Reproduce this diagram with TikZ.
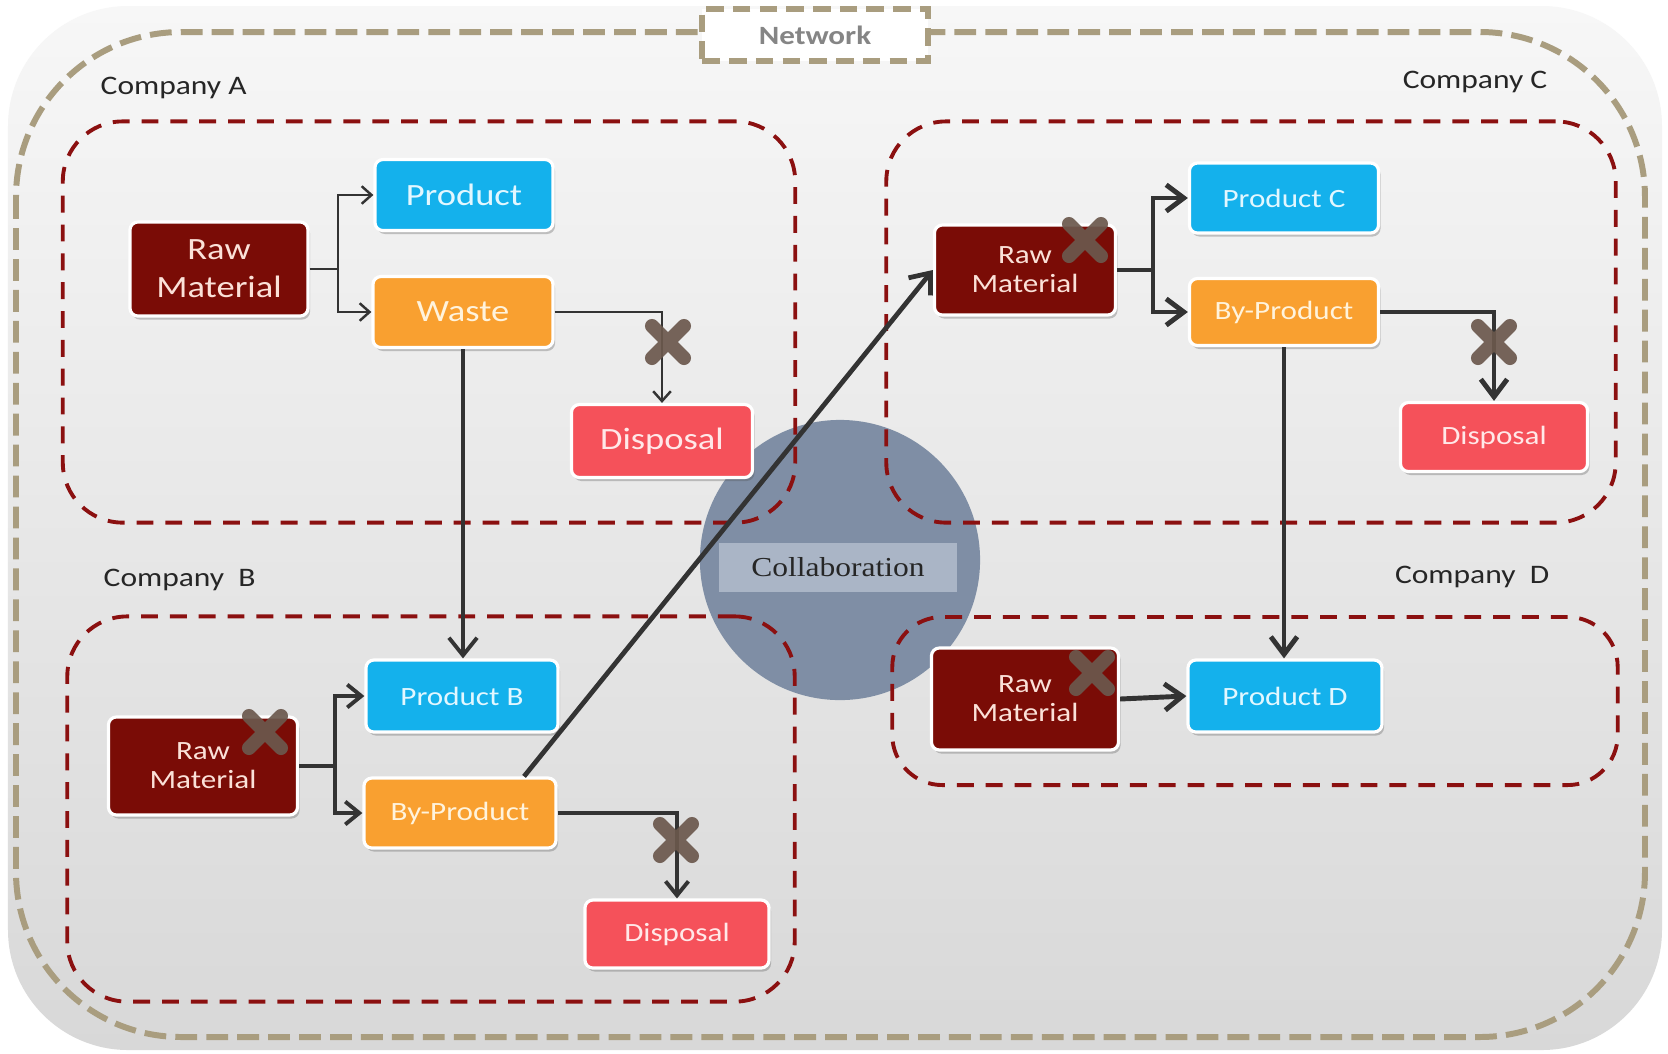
\documentclass[tikz,border=0pt]{standalone}
\usepackage{fontspec}
\setmainfont[FakeStretch=1.18]{Carlito}
\newfontfamily\collabfont[FakeStretch=1.15]{Liberation Serif}
\usetikzlibrary{arrows.meta,shadows,calc}
\definecolor{lc}{HTML}{333333}
\definecolor{panelTop}{HTML}{F7F7F7}
\definecolor{panelBot}{HTML}{D8D8D8}
\definecolor{tan}{HTML}{A99D7F}
\definecolor{compred}{HTML}{8B1010}
\definecolor{rawcol}{HTML}{7A0C06}
\definecolor{rawtxt}{HTML}{FBE1D8}
\definecolor{prodcol}{HTML}{14B1EC}
\definecolor{prodtxt}{HTML}{E2F7FF}
\definecolor{wastecol}{HTML}{F9A030}
\definecolor{wastetxt}{HTML}{FFF3DC}
\definecolor{dispcol}{HTML}{F5515A}
\definecolor{disptxt}{HTML}{FFE8E8}
\definecolor{circcol}{HTML}{7C8CA3}
\definecolor{collabbox}{HTML}{AAB5C6}
\definecolor{xcol}{HTML}{6B584D}
\tikzset{
  netline/.style={draw=tan, line width=1.7pt, dash pattern=on 6.2pt off 2.6pt},
  netlabel/.style={draw=tan, line width=1.7pt, dash pattern=on 5pt off 2.6pt, fill=white, inner sep=0,
    text=black!48, font=\fontsize{7.5}{9}\selectfont\bfseries},
  compbox/.style={draw=compred, line width=1.1pt, dash pattern=on 4.8pt off 3.4pt, rounded corners=0.6cm, inner sep=0},
  complabel/.style={inner sep=0, text=black!85, font=\fontsize{7.6}{9}\selectfont},
  box/.style={rounded corners=0.08cm, draw=white, line width=0.9pt, inner sep=0, align=center,
    drop shadow={shadow xshift=0.02cm, shadow yshift=-0.035cm, opacity=0.3, fill=black!70}},
  big/.style={font=\fontsize{8.8}{10.8}\selectfont},
  small/.style={font=\fontsize{7.5}{8.3}\selectfont},
  rawc/.style={box, fill=rawcol, text=rawtxt},
  prodc/.style={box, fill=prodcol, text=prodtxt},
  wastec/.style={box, fill=wastecol, text=wastetxt},
  dispc/.style={box, fill=dispcol, text=disptxt},
  lnA/.style={draw=lc, line width=0.7pt},
  arrA/.style={-{Straight Barb[length=2.8pt,width=5pt,line width=0.7pt]}},
  lnB/.style={draw=lc, line width=1.1pt},
  arrB/.style={-{Straight Barb[length=4pt,width=6.5pt,line width=1.1pt]}},
  lnC/.style={draw=lc, line width=1.4pt},
  arrC/.style={-{Straight Barb[length=5pt,width=7.5pt,line width=1.4pt]}},
  lnL/.style={draw=lc, line width=1.1pt},
  arrL/.style={-{Straight Barb[length=5pt,width=8pt,line width=1.1pt]}},
  lnM/.style={draw=lc, line width=1.35pt},
  arrM/.style={-{Straight Barb[length=5pt,width=8pt,line width=1.35pt]}},
  xstroke/.style={draw=xcol, line width=4pt, line cap=round, opacity=0.92},
  xcross/.pic={\draw[xstroke] (-16,-16) -- (16,16) (-16,16) -- (16,-16);}
}
\begin{document}
\begin{tikzpicture}[x=0.01cm,y=-0.01cm]
\useasboundingbox (0,0) rectangle (1668,1053);
\fill[white] (0,0) rectangle (1668,1053);
\shade[top color=panelTop, bottom color=panelBot, rounded corners=1.2cm] (8,6) rectangle (1662,1050);

% network outline
\draw[netline, rounded corners=1.65cm] (16,32) rectangle (1645,1037);
\node[netlabel, minimum width=2.25cm, minimum height=0.52cm] (net) at (815,35) {Network};

% collaboration circle
\node[circle, minimum size=2.8cm, inner sep=0, fill=circcol, opacity=0.97] (collab) at (840,560) {};
\node[fill=collabbox, minimum width=2.37cm, minimum height=0.49cm, inner sep=0,
  font=\collabfont\fontsize{7.8}{9}\selectfont, text=black!85] (collabtxt) at (838,567) {Collaboration};

% company boxes
\node[compbox, minimum width=7.32cm, minimum height=4.01cm] (boxA) at (429,322) {};
\node[compbox, minimum width=7.27cm, minimum height=3.85cm] (boxB) at (431,809) {};
\node[compbox, minimum width=7.29cm, minimum height=4.01cm] (boxC) at (1251,322) {};
\node[compbox, minimum width=7.25cm, minimum height=1.68cm, rounded corners=0.5cm] (boxD) at (1255,701) {};

\node[complabel, anchor=west] (labA) at (100,88) {Company A};
\node[complabel, anchor=east] (labC) at (1548,82) {Company C};
\node[complabel, anchor=west] (labB) at (103,580) {Company~~B};
\node[complabel, anchor=east] (labD) at (1550,577) {Company~~D};

% Company A nodes
\node[rawc, big, minimum width=1.78cm, minimum height=0.94cm] (rawA) at (219,269) {Raw\\Material};
\node[prodc, big, minimum width=1.78cm, minimum height=0.71cm] (prodA) at (464,195) {Product};
\node[wastec, big, minimum width=1.80cm, minimum height=0.71cm] (wasteA) at (463,312) {Waste};
\node[dispc, big, minimum width=1.81cm, minimum height=0.73cm] (dispA) at (662,441) {Disposal};

% Company B nodes
\node[rawc, small, minimum width=1.89cm, minimum height=0.98cm] (rawB) at (203,766) {Raw\\Material};
\node[prodc, small, minimum width=1.92cm, minimum height=0.72cm] (prodB) at (462,696) {Product B};
\node[wastec, small, minimum width=1.92cm, minimum height=0.70cm] (byB) at (460,813) {By-Product};
\node[dispc, small, minimum width=1.84cm, minimum height=0.68cm] (dispB) at (677,934) {Disposal};

% Company C nodes
\node[rawc, small, minimum width=1.81cm, minimum height=0.90cm] (rawC) at (1025,270) {Raw\\Material};
\node[prodc, small, minimum width=1.89cm, minimum height=0.70cm] (prodC) at (1284,198) {Product C};
\node[wastec, small, minimum width=1.89cm, minimum height=0.67cm] (byC) at (1284,312) {By-Product};
\node[dispc, small, minimum width=1.87cm, minimum height=0.69cm] (dispC) at (1494,437) {Disposal};

% Company D nodes
\node[rawc, small, minimum width=1.87cm, minimum height=1.02cm] (rawD) at (1025,699) {Raw\\Material};
\node[prodc, small, minimum width=1.94cm, minimum height=0.72cm] (prodD) at (1285,696) {Product D};

% connectors A
\coordinate (jA) at (338,269);
\draw[lnA] (rawA.east) -- (jA);
\draw[lnA, arrA] (jA) |- (prodA.west);
\draw[lnA, arrA] (jA) |- (wasteA.west);
\draw[lnA, arrA] (wasteA.east) -| (dispA.north);
\draw[lnL, arrL] (wasteA.south) -- (wasteA.south |- prodB.north);

% connectors B
\coordinate (jB) at (335,766);
\draw[lnB] (rawB.east) -- (jB);
\draw[lnB, arrB] (jB) |- (prodB.west);
\draw[lnB, arrB] (jB) |- (byB.west);
\draw[lnB, arrB] (byB.east) -| (dispB.north);
\draw[lnM, arrM] ([xshift=0.64cm]byB.north) -- (rawC.west);

% connectors C
\coordinate (jC) at (1153,270);
\draw[lnC] (rawC.east) -- (jC);
\draw[lnC, arrC] (jC) |- (prodC.west);
\draw[lnC, arrC] (jC) |- (byC.west);
\draw[lnC, arrC] (byC.east) -| (dispC.north);
\draw[lnC, arrC] (byC.south) -- (byC.south |- prodD.north);

% connector D
\draw[lnC, arrC] (rawD.east) -- (prodD.west);

% cross marks
\pic at (668,342) {xcross};
\pic at (676,840) {xcross};
\pic at (265,732) {xcross};
\pic at (1085,240) {xcross};
\pic at (1494,342) {xcross};
\pic at (1092,673) {xcross};
\end{tikzpicture}
\end{document}
